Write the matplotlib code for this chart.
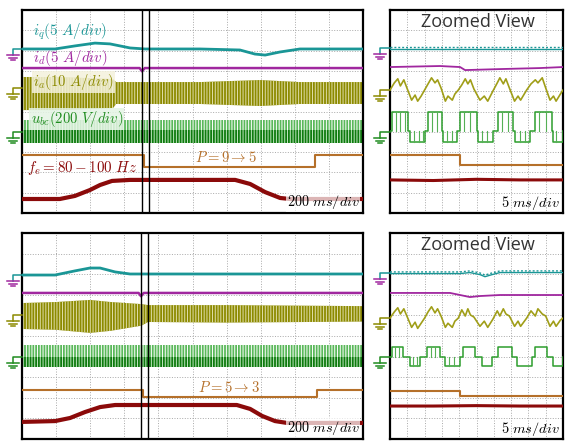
import numpy as np
import matplotlib.pyplot as plt
from matplotlib.lines import Line2D
from matplotlib.transforms import IdentityTransform

plt.rcParams['mathtext.fontset'] = 'cm'
plt.rcParams['hatch.linewidth'] = 0.7

# colours of the scope channels
c_iq = '#1a9696'
c_id = '#a0279f'
c_ia = '#8c8a00'
c_ubc = '#1f8c1f'
c_p = '#b5702a'
c_fe = '#8b0a0a'

# ---- main view (200 ms/div), values in divisions ----
# top: P = 9 -> 5
iq_t_top = [0, 0.97, 1.55, 2.14, 2.58, 3.17, 3.61, 5.22, 6.39, 6.83, 7.13, 7.56, 8.15, 10]
iq_top = [8.08, 8.08, 8.23, 8.37, 8.33, 8.13, 8.08, 8.08, 8.03, 7.83, 7.78, 7.93, 8.08, 8.08]
id_t_top = [0, 3.45, 3.52, 3.6, 10]
id_top = [7.14, 7.14, 6.98, 7.14, 7.14]
ia_t_top = [0, 1.11, 2.67, 2.76, 5.22, 6.98, 8.15, 10]
ia_hi_top = [6.70, 6.70, 6.60, 6.45, 6.45, 6.55, 6.45, 6.45]
ia_lo_top = [5.07, 5.07, 5.17, 5.37, 5.37, 5.27, 5.37, 5.37]
ubc_top = [4.58, 4.09, 3.45]
p_t_top = [0, 3.58, 8.59, 10]
p_top = [2.86, 2.27, 2.86, 2.86]
fe_t_top = [0, 1.11, 1.55, 1.99, 2.29, 2.64, 3.17, 6.25, 6.69, 7.13, 7.57, 7.86, 10]
fe_top = [0.69, 0.69, 0.84, 1.13, 1.38, 1.58, 1.63, 1.63, 1.43, 1.03, 0.74, 0.69, 0.69]
cursor_top = [3.52, 3.71]

# bottom: P = 5 -> 3
iq_t_bot = [0, 0.97, 1.55, 1.99, 2.29, 2.73, 3.17, 10]
iq_bot = [7.96, 7.96, 8.16, 8.30, 8.30, 8.11, 8.01, 8.01]
id_t_bot = [0, 3.42, 3.49, 3.57, 10]
id_bot = [7.09, 7.09, 6.93, 7.09, 7.09]
ia_t_bot = [0, 1.0, 2.0, 2.6, 3.5, 3.7, 6.0, 10]
ia_hi_bot = [6.60, 6.65, 6.75, 6.65, 6.55, 6.50, 6.50, 6.45]
ia_lo_bot = [5.34, 5.30, 5.15, 5.25, 5.50, 5.68, 5.65, 5.70]
ubc_bot = [4.56, 4.00, 3.50]
p_t_bot = [0, 3.55, 8.65, 10]
p_bot = [2.38, 2.04, 2.38, 2.38]
fe_t_bot = [0, 0.97, 1.41, 1.85, 2.29, 2.73, 3.17, 6.3, 6.69, 7.04, 7.42, 7.77, 10]
fe_bot = [0.83, 0.87, 1.02, 1.31, 1.55, 1.65, 1.65, 1.65, 1.46, 1.12, 0.87, 0.78, 0.78]
cursor_bot = [3.49, 3.69]

# ---- zoomed view (5 ms/div) ----
ia_zt = [0, 0.25, 0.45, 0.6, 0.8, 1.0, 1.25, 1.45, 1.6, 1.8, 2.0, 2.2, 2.4, 2.6, 2.75, 2.95,
         3.2, 3.35, 3.6, 3.75, 3.95, 4.15, 4.35, 4.5, 4.65, 4.85, 5.2, 5.45, 5.65, 5.95, 6.2,
         6.35, 6.55, 6.7, 6.9, 7.2, 7.4, 7.55, 7.9, 8.15, 8.4, 8.55, 8.8, 9.0, 9.25, 9.45,
         9.6, 9.85, 10]
ia_z_top = [6.06, 6.41, 6.61, 6.26, 6.56, 6.11, 5.56, 5.81, 5.51, 5.76, 6.06, 6.36, 6.66,
            6.41, 6.56, 6.16, 5.51, 5.76, 5.56, 5.86, 6.06, 6.31, 6.61, 6.36, 6.56, 6.11,
            5.56, 5.76, 5.51, 6.01, 6.41, 6.66, 6.36, 6.61, 6.16, 5.51, 5.76, 5.56, 6.06,
            6.36, 6.56, 6.41, 6.66, 6.16, 5.56, 5.76, 5.51, 5.86, 6.06]
ia_z_bot = [5.87, 6.17, 6.37, 6.07, 6.32, 5.92, 5.42, 5.67, 5.37, 5.62, 5.87, 6.17, 6.42,
            6.12, 6.32, 5.97, 5.42, 5.62, 5.42, 5.72, 5.87, 6.27, 5.97, 6.32, 6.02, 5.92,
            5.47, 5.72, 5.42, 5.82, 6.22, 5.97, 6.32, 6.07, 5.97, 5.47, 5.72, 5.47, 5.87,
            6.22, 5.97, 6.32, 6.07, 5.97, 5.47, 5.72, 5.47, 5.77, 5.87]

iq_zt_top = [0, 10]
iq_z_top = [8.13, 8.13]
id_zt_top = [0, 2.89, 4.05, 4.34, 6.36, 8.67, 10]
id_z_top = [7.19, 7.24, 7.19, 7.04, 7.09, 7.14, 7.19]
iq_zt_bot = [0, 4.05, 4.62, 5.2, 5.49, 5.9, 6.36, 10]
iq_z_bot = [8.06, 8.06, 8.11, 8.01, 7.91, 8.01, 8.11, 8.11]
id_zt_bot = [0, 3.47, 4.05, 4.62, 5.2, 6.36, 10]
id_z_bot = [7.09, 7.09, 6.99, 6.89, 6.94, 6.99, 6.99]

# u_bc pulses (start, end) and levels [high, mid, low]
ubc_hi_top = [(0.12, 1.04), (2.2, 3.0), (4.05, 5.03), (6.24, 7.11), (8.38, 9.36)]
ubc_lo_top = [(1.16, 2.02), (3.06, 3.87), (5.09, 5.95), (7.23, 8.09), (9.42, 10)]
ubc_lvl_top = [5.0, 4.02, 3.5]
ubc_chop_top = [0.35, 0.6, 0.85, 1.4, 1.7, 1.9, 2.45, 2.7, 3.3, 3.6, 4.3, 4.6, 5.3, 5.6,
                6.5, 6.8, 7.5, 7.8, 8.6, 9.0, 9.6]
ubc_hi_bot = [(0.12, 0.75), (2.14, 2.89), (4.22, 4.91), (6.24, 7.05), (8.38, 9.08)]
ubc_lo_bot = [(1.16, 1.73), (3.18, 4.05), (5.32, 5.9), (7.34, 8.21), (9.42, 10)]
ubc_lvl_bot = [4.47, 3.98, 3.54]
ubc_chop_bot = [0.3, 0.5, 1.35, 1.55, 2.35, 2.6, 3.4, 3.7]

p_zt = [0, 4.05, 10]
p_z_top = [2.86, 2.36, 2.36]
p_z_bot = [2.33, 2.09, 2.09]
fe_zt = [0, 2.5, 5.0, 7.5, 10]
fe_z_top = [1.63, 1.60, 1.66, 1.63, 1.63]
fe_z_bot = [1.60, 1.60, 1.62, 1.60, 1.60]

W, H = 565, 441
fig = plt.figure(figsize=(W / 100, H / 100), dpi=100)


def add_ax(x0, y0, x1, y1):
    ax = fig.add_axes([x0 / W, (H - y1) / H, (x1 - x0) / W, (y1 - y0) / H])
    ax.set_xlim(0, 10)
    ax.set_ylim(0, 10)
    ax.set_xticks(np.arange(1, 10))
    ax.set_yticks(np.arange(1, 10))
    ax.grid(True, ls=':', color='#a8a8a8', lw=0.7)
    ax.tick_params(length=0, labelbottom=False, labelleft=False)
    for s in ax.spines.values():
        s.set_linewidth(1.6)
    return ax


def ground(x0, x1, y, c, cb):
    yd = H - y
    fig.add_artist(Line2D([x1, x0, x0], [yd, yd, yd - 6], color=c, lw=1.1,
                          transform=IdentityTransform()))
    for i, hw in enumerate([6, 4, 2]):
        fig.add_artist(Line2D([x0 - hw, x0 + hw], [yd - 6 - 2.5 * i] * 2, color=cb, lw=1.1,
                              transform=IdentityTransform()))


def band(ax, t, hi, lo, face, stripe):
    ax.fill_between(t, lo, hi, facecolor=face, edgecolor=stripe, hatch='||||||', lw=0, zorder=2)


def ripple(ax, t, y, c):
    ax.plot(t, np.array(y) + 0.05, color=c, lw=1.0, dashes=(1.4, 1.4), zorder=3)
    ax.plot(t, np.array(y) - 0.03, color=c, lw=1.0, zorder=3)


def pulses(ax, hi, lo, lvl, chops, c):
    segs = sorted([(a, b, lvl[0]) for a, b in hi] + [(a, b, lvl[2]) for a, b in lo])
    xs, ys = [0], [lvl[1]]
    for a, b, v in segs:
        xs += [a, a, b, b]
        ys += [lvl[1], v, v, lvl[1]]
    xs.append(10)
    ys.append(lvl[1])
    ax.plot(xs, ys, color=c, lw=1.1, zorder=3)
    for x in chops:
        v = lvl[0] if any(a < x < b for a, b in hi) else lvl[2]
        ax.plot([x, x], [v, lvl[1]], color='#55b055', lw=0.8, zorder=3)


ax_t = add_ax(22, 10, 363, 213)
ax_b = add_ax(22, 233, 363, 439)
z_t = add_ax(390, 10, 563, 213)
z_b = add_ax(390, 233, 563, 439)

# main views
for ax, iqt, iq, idt, idv, iat, iah, ial, ub, pt, pv, ft, fv, cur in [
        (ax_t, iq_t_top, iq_top, id_t_top, id_top, ia_t_top, ia_hi_top, ia_lo_top, ubc_top,
         p_t_top, p_top, fe_t_top, fe_top, cursor_top),
        (ax_b, iq_t_bot, iq_bot, id_t_bot, id_bot, ia_t_bot, ia_hi_bot, ia_lo_bot, ubc_bot,
         p_t_bot, p_bot, fe_t_bot, fe_bot, cursor_bot)]:
    ax.plot(iqt, iq, color=c_iq, lw=2.0, zorder=3)
    ax.plot(idt, idv, color=c_id, lw=1.8, zorder=3)
    band(ax, iat, iah, ial, c_ia, '#e0deaa')
    band(ax, [0, 10], [ub[0]] * 2, [ub[1]] * 2, '#5ab85a', 'white')
    band(ax, [0, 10], [ub[1]] * 2, [ub[2]] * 2, '#0e7a0e', '#bfe6bf')
    ax.step(pt, pv, where='post', color=c_p, lw=1.5, zorder=3)
    ax.plot(ft, fv, color=c_fe, lw=3.0, zorder=3, solid_capstyle='butt')
    for x in cur:
        ax.axvline(x, color='black', lw=1.0, zorder=4)
    ax.text(0.99, 0.055, r'$200\ ms/div$', transform=ax.transAxes, ha='right', va='center',
            fontsize=10.3, zorder=6,
            bbox=dict(facecolor='white', edgecolor='none', alpha=0.7, pad=0.5))

ax_t.text(0.32, 8.92, r'$i_q(5\ A/div)$', color=c_iq, fontsize=10.8, va='center', zorder=6)
ax_t.text(0.32, 7.64, r'$i_d(5\ A/div)$', color=c_id, fontsize=10.8, va='center', zorder=6)
ax_t.text(0.32, 6.45, r'$i_a(10\ A/div)$', color=c_ia, fontsize=10.6, va='center', zorder=6,
          bbox=dict(facecolor='#f4f2dc', edgecolor='none', alpha=0.85, pad=1))
ax_t.text(0.25, 4.63, r'$u_{bc}(200\ V/div)$', color=c_ubc, fontsize=10.6, va='center',
          zorder=6, bbox=dict(facecolor='#e4f4e4', edgecolor='none', alpha=0.85, pad=1))
ax_t.text(0.15, 2.22, r'$f_e=80-100\ Hz$', color=c_fe, fontsize=10.8, va='center', zorder=6)
ax_t.text(5.98, 2.71, r'$P=9\rightarrow5$', color=c_p, fontsize=10.6, ha='center',
          va='center', zorder=6)
ax_b.text(6.07, 2.52, r'$P=5\rightarrow3$', color=c_p, fontsize=10.6, ha='center',
          va='center', zorder=6)

# zoomed views
for ax, iqt, iq, idt, idv, ia, hi, lo, lvl, ch, pv, fv in [
        (z_t, iq_zt_top, iq_z_top, id_zt_top, id_z_top, ia_z_top, ubc_hi_top, ubc_lo_top,
         ubc_lvl_top, ubc_chop_top, p_z_top, fe_z_top),
        (z_b, iq_zt_bot, iq_z_bot, id_zt_bot, id_z_bot, ia_z_bot, ubc_hi_bot, ubc_lo_bot,
         ubc_lvl_bot, ubc_chop_bot, p_z_bot, fe_z_bot)]:
    ripple(ax, iqt, iq, c_iq)
    ax.plot(idt, idv, color=c_id, lw=1.3, zorder=3)
    ax.plot(ia_zt, ia, color='#a09e18', lw=1.2, zorder=3)
    pulses(ax, hi, lo, lvl, ch, '#2e9e2e')
    ax.step(p_zt, pv, where='post', color=c_p, lw=1.5, zorder=3)
    ax.plot(fe_zt, fv, color=c_fe, lw=2.2, zorder=3)
    ax.text(0.51, 0.94, 'Zoomed View', transform=ax.transAxes, ha='center', va='center',
            fontsize=13, color='#333333', family='Open Sans', zorder=6)
    ax.text(0.98, 0.05, r'$5\ ms/div$', transform=ax.transAxes, ha='right', va='center',
            fontsize=10.3, zorder=6)

for x0, x1, ys in [(13, 22, [49, 88, 132]), (13, 22, [275, 315, 357]),
                   (380, 390, [48, 90, 132]), (380, 390, [273, 318, 357])]:
    ground(x0, x1, ys[0], c_iq, c_id)
    ground(x0, x1, ys[1], c_ia, c_ia)
    ground(x0, x1, ys[2], c_ubc, c_ubc)

fig.savefig('out.png', dpi=100)
